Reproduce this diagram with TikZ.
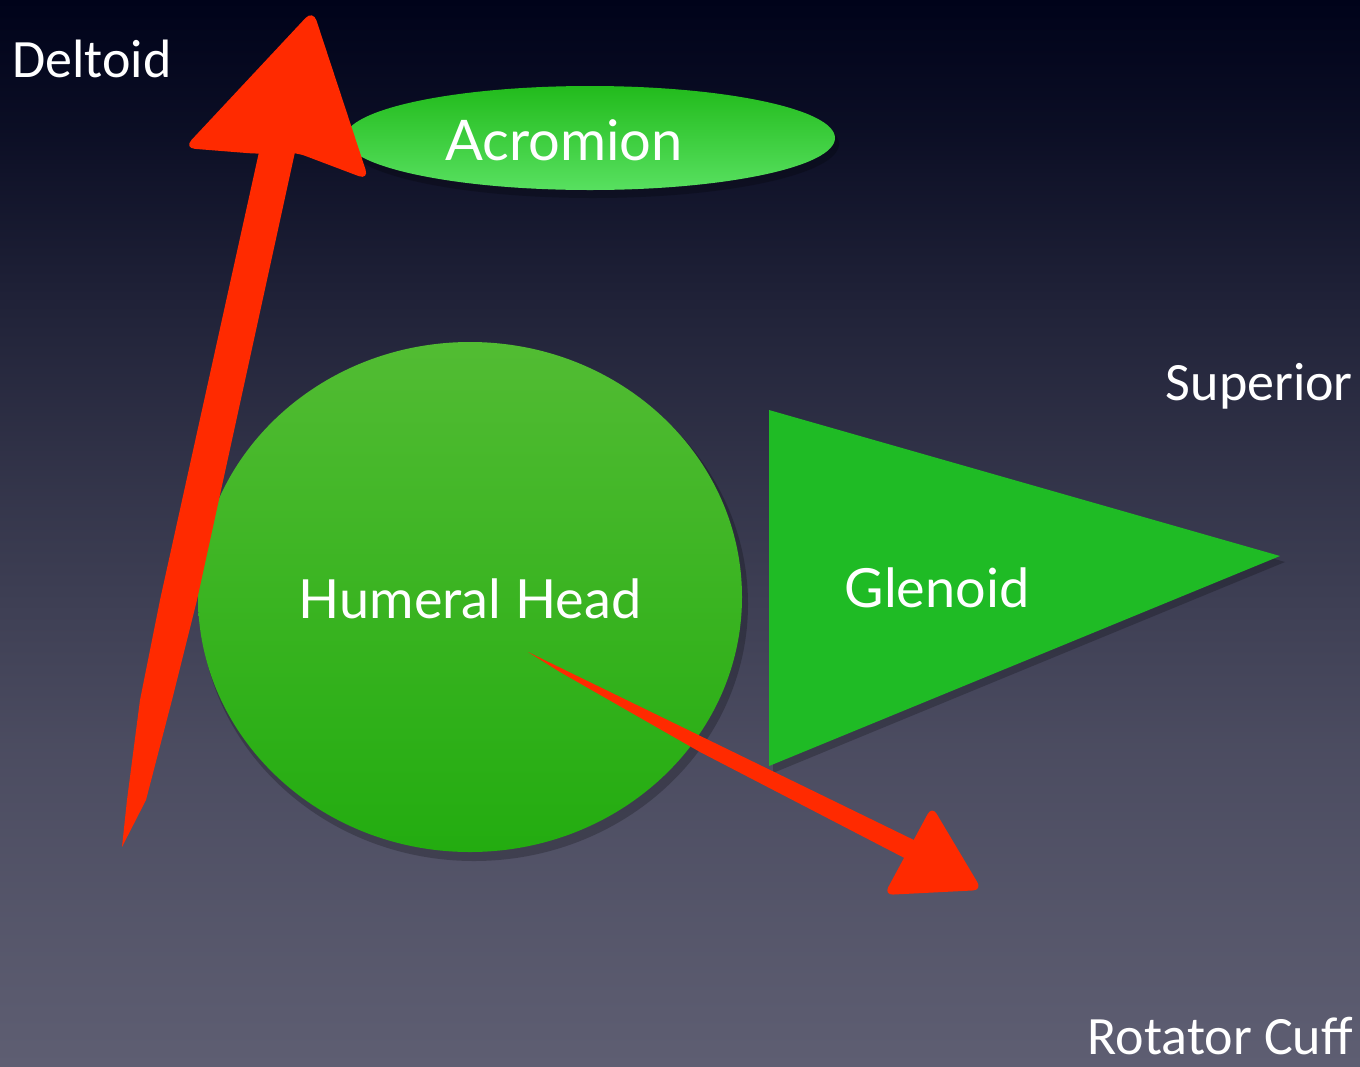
\documentclass[tikz,border=0pt]{standalone}
\usepackage{fontspec}
\setmainfont{Carlito}
\newfontfamily\innerfont{Lato}
\usetikzlibrary{shapes.geometric}
\definecolor{bgtop}{HTML}{00031A}
\definecolor{bgbot}{HTML}{5E5E72}
\definecolor{arrred}{HTML}{FF2A00}
\definecolor{glen}{HTML}{1FBB25}
\definecolor{acrtop}{HTML}{22BB1C}
\definecolor{acrbot}{HTML}{58E060}
\definecolor{hhtop}{HTML}{52BC33}
\definecolor{hhbot}{HTML}{23AC10}
\pgfdeclareverticalshading{bgshade}{100bp}{color(0bp)=(bgbot); color(25bp)=(bgbot); color(40bp)=(bgbot!80!bgtop); color(52bp)=(bgbot!55!bgtop); color(60bp)=(bgbot!36!bgtop); color(69bp)=(bgbot!12!bgtop); color(75bp)=(bgtop); color(100bp)=(bgtop)}
\tikzset{
  outerlabel/.style={text=white, font=\fontsize{54}{60}\selectfont, inner sep=0pt},
  innerlabel/.style={text=white, font=\innerfont\fontsize{54}{60}\selectfont, inner sep=0pt},
  redfill/.style={fill=arrred},
  shadowfill/.style={fill=black, opacity=0.22},
}
\begin{document}
\begin{tikzpicture}[x=1pt,y=-1pt]
\useasboundingbox (0,0) rectangle (1360,1066);
\shade[shading=bgshade] (0,0) rectangle (1360,1066);
% shadows
\fill[shadowfill] (593,144) ellipse [x radius=246, y radius=54];
\fill[shadowfill] (474,604) ellipse [x radius=274, y radius=257];
\fill[shadowfill] (773,415) -- (1285,562) -- (773,773) -- cycle;
% Acromion
\node[ellipse, minimum width=490, minimum height=104, inner sep=0pt,
      top color=acrtop, bottom color=acrbot] (acromion) at (590,138) {};
\node[innerlabel, font=\innerfont\fontsize{56}{60}\selectfont] (acrtext) at (564,140) {Acromion};
% Humeral head
\node[ellipse, minimum width=544, minimum height=510, inner sep=0pt,
      top color=hhtop, bottom color=hhbot] (hh) at (470,597) {};
\node[innerlabel] (hhtext) at (470,599) {Humeral Head};
% Glenoid
\coordinate (g1) at (769,410);
\coordinate (g2) at (1280,556);
\coordinate (g3) at (769,766);
\fill[glen] (g1) -- (g2) -- (g3) -- cycle;
\node[innerlabel] (gltext) at (937,588) {Glenoid};
% outer labels
\node[outerlabel, anchor=west] (deltoid) at (12,59) {Deltoid};
\node[outerlabel, anchor=east] (superior) at (1353,386) {Superior};
\node[outerlabel, anchor=east] (cuff) at (1353,1036) {Rotator Cuff};
% Deltoid arrow
\coordinate (d1) at (122,847);
\coordinate (d2) at (127,800);
\coordinate (d3) at (140,700);
\coordinate (d4) at (160,600);
\coordinate (d5) at (259,152);
\coordinate (d6) at (295,152);
\coordinate (d7) at (197,600);
\coordinate (d8) at (172,700);
\coordinate (d9) at (146,800);
\fill[redfill] (d1) -- (d2) -- (d3) -- (d4) -- (d5) -- (d6) -- (d7) -- (d8) -- (d9) -- cycle;
\fill[redfill, rounded corners=11pt] (184,148) -- (313,10) -- (369,180) -- (295,152) -- (259,154) -- cycle;
% Rotator cuff arrow
\coordinate (r1) at (528,652);
\coordinate (r2) at (918,842);
\coordinate (r3) at (916,864);
\coordinate (r4) at (700,752);
\coordinate (r5) at (560,672);
\fill[redfill] (r1) -- (r2) -- (r3) -- (r4) -- (r5) -- cycle;
\fill[redfill, rounded corners=9pt] (884,895) -- (932,806) -- (982,890) -- cycle;
\end{tikzpicture}
\end{document}
